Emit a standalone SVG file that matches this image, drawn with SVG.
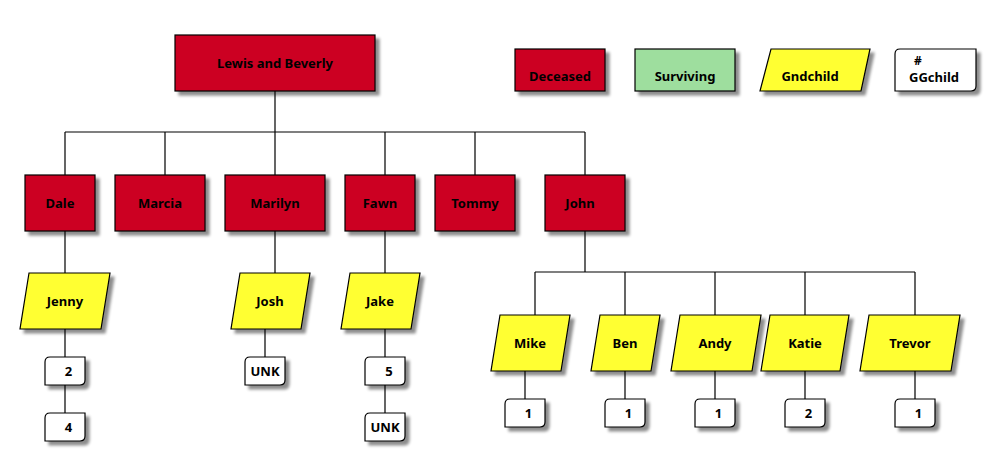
<svg xmlns="http://www.w3.org/2000/svg" width="1000" height="476" viewBox="0 0 1000 476">
<defs>
<filter id="sh" x="-20%" y="-20%" width="150%" height="160%">
<feGaussianBlur in="SourceAlpha" stdDeviation="1.8"/>
<feOffset dx="4" dy="4" result="b"/>
<feComponentTransfer><feFuncA type="linear" slope="0.45"/></feComponentTransfer>
<feMerge><feMergeNode/><feMergeNode in="SourceGraphic"/></feMerge>
</filter>
</defs>
<style>
text{font-family:"Noto Sans","DejaVu Sans",sans-serif;font-weight:bold;font-size:13px;fill:#000;text-anchor:middle}
.dec{fill:#CC0022;stroke:#000;stroke-width:1.2;filter:url(#sh)}
.sur{fill:#9EDE9E;stroke:#000;stroke-width:1.2;filter:url(#sh)}
.gnd{fill:#FFFF33;stroke:#000;stroke-width:1.2;filter:url(#sh)}
.gg{fill:#FFFFFF;stroke:#000;stroke-width:1.2;filter:url(#sh)}
.ln{stroke:#000;stroke-width:1.2;fill:none}
</style>
<rect width="1000" height="476" fill="#fff"/>
<g id="connectors" class="ln">
<path d="M275 91V132M65 132H585M65 132V175M165 132V175M275 132V175M385 132V175M475 132V175M585 132V175"/>
<path d="M65 231V273M65 329V357M65 385V413"/>
<path d="M275 231V273M265 329V357"/>
<path d="M385 231V273M385 329V357M385 385V413"/>
<path d="M585 231V272M535 272H915M535 272V315M625 272V315M715 272V315M805 272V315M915 272V315"/>
<path d="M525 371V399M625 371V399M715 371V399M805 371V399M915 371V399"/>
</g>
<g id="lewis"><rect class="dec" x="175" y="35" width="200" height="56"/><text x="275" y="68">Lewis and Beverly</text></g>
<g id="legend-deceased"><rect class="dec" x="515" y="49" width="90" height="42"/><text x="560" y="81">Deceased</text></g>
<g id="legend-surviving"><rect class="sur" x="635" y="49" width="100" height="42"/><text x="685" y="81">Surviving</text></g>
<g id="legend-gndchild"><path class="gnd" d="M771 49H870L861 91H760Z"/><text x="810" y="81">Gndchild</text></g>
<g id="legend-ggchild"><path class="gg" d="M900 49H976V86Q976 91 971 91H895V54Q895 49 900 49Z"/><text x="918" y="65" style="font-size:12px">#</text><text x="934" y="81.5">GGchild</text></g>
<g id="dale"><rect class="dec" x="25" y="175" width="70" height="56"/><text x="60" y="208">Dale</text></g>
<g id="marcia"><rect class="dec" x="115" y="175" width="90" height="56"/><text x="160" y="208">Marcia</text></g>
<g id="marilyn"><rect class="dec" x="225" y="175" width="100" height="56"/><text x="275" y="208">Marilyn</text></g>
<g id="fawn"><rect class="dec" x="345" y="175" width="70" height="56"/><text x="380" y="208">Fawn</text></g>
<g id="tommy"><rect class="dec" x="435" y="175" width="80" height="56"/><text x="475" y="208">Tommy</text></g>
<g id="john"><rect class="dec" x="545" y="175" width="80" height="56"/><text x="580" y="208">John</text></g>
<g id="jenny"><path class="gnd" d="M29 273H110L101 329H20Z"/><text x="65" y="306">Jenny</text></g>
<g id="josh"><path class="gnd" d="M240 273H310L301 329H231Z"/><text x="270" y="306">Josh</text></g>
<g id="jake"><path class="gnd" d="M350 273H420L411 329H341Z"/><text x="380" y="306">Jake</text></g>
<g id="mike"><path class="gnd" d="M500 315H570L561 371H491Z"/><text x="530" y="348">Mike</text></g>
<g id="ben"><path class="gnd" d="M600 315H660L651 371H591Z"/><text x="625" y="348">Ben</text></g>
<g id="andy"><path class="gnd" d="M680 315H761L752 371H671Z"/><text x="715" y="348">Andy</text></g>
<g id="katie"><path class="gnd" d="M770 315H849L840 371H761Z"/><text x="805" y="348">Katie</text></g>
<g id="trevor"><path class="gnd" d="M869 315H960L951 371H860Z"/><text x="910" y="348">Trevor</text></g>
<g id="jenny-2"><path class="gg" d="M50 357H85V380Q85 385 80 385H45V362Q45 357 50 357Z"/><text x="68.5" y="376">2</text></g>
<g id="jenny-4"><path class="gg" d="M50 413H85V436Q85 441 80 441H45V418Q45 413 50 413Z"/><text x="68.5" y="432">4</text></g>
<g id="josh-unk"><path class="gg" d="M250 357H285V380Q285 385 280 385H245V362Q245 357 250 357Z"/><text x="265" y="376">UNK</text></g>
<g id="jake-5"><path class="gg" d="M370 357H405V380Q405 385 400 385H365V362Q365 357 370 357Z"/><text x="389" y="376">5</text></g>
<g id="jake-unk"><path class="gg" d="M370 413H405V436Q405 441 400 441H365V418Q365 413 370 413Z"/><text x="385" y="432">UNK</text></g>
<g id="mike-1"><path class="gg" d="M510 399H545V422Q545 427 540 427H505V404Q505 399 510 399Z"/><text x="528.5" y="418">1</text></g>
<g id="ben-1"><path class="gg" d="M610 399H645V422Q645 427 640 427H605V404Q605 399 610 399Z"/><text x="628.5" y="418">1</text></g>
<g id="andy-1"><path class="gg" d="M700 399H735V422Q735 427 730 427H695V404Q695 399 700 399Z"/><text x="718.5" y="418">1</text></g>
<g id="katie-2"><path class="gg" d="M790 399H825V422Q825 427 820 427H785V404Q785 399 790 399Z"/><text x="808.5" y="418">2</text></g>
<g id="trevor-1"><path class="gg" d="M900 399H935V422Q935 427 930 427H895V404Q895 399 900 399Z"/><text x="918.5" y="418">1</text></g>
</svg>
